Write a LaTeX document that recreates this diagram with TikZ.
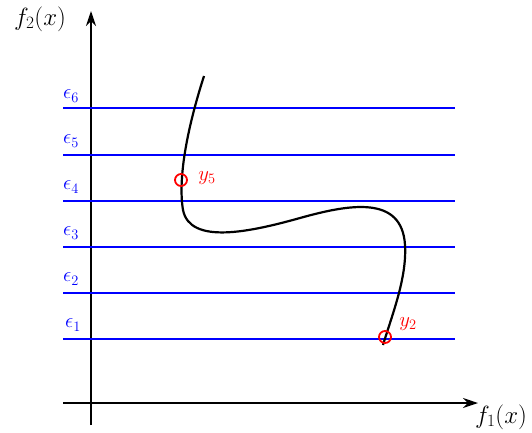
\documentclass[tikz,border=0pt]{standalone}
\usetikzlibrary{arrows.meta}
\begin{document}
\begin{tikzpicture}[x=1pt,y=-1pt,
  axis/.style={line width=1.4pt,-{Stealth[length=15pt,width=10pt]}},
  eps/.style={draw=blue,line width=1.1pt},
  biglabel/.style={font=\fontsize{27}{32}\selectfont,inner sep=0pt},
  epslabel/.style={text=blue,font=\fontsize{21}{25}\selectfont,inner sep=0pt},
  pt/.style={circle,draw=red,line width=1.8pt,minimum size=12pt,inner sep=0pt},
  ptlabel/.style={text=red,font=\fontsize{21}{25}\selectfont,inner sep=0pt}]
\useasboundingbox (0,0) rectangle (532,432);
% axes
\coordinate (ys) at (91,425);
\coordinate (ye) at (91,11);
\coordinate (xs) at (63,403);
\coordinate (xe) at (478,403);
\draw[axis] (ys) -- (ye);
\draw[axis] (xs) -- (xe);
\node[biglabel] (f2) at (40,19) {$f_2(x)$};
\node[biglabel] (f1) at (501,417) {$f_1(x)$};
% epsilon lines
\coordinate (l1) at (63,339); \coordinate (r1) at (455,339);
\coordinate (l2) at (63,293); \coordinate (r2) at (455,293);
\coordinate (l3) at (63,247); \coordinate (r3) at (455,247);
\coordinate (l4) at (63,201); \coordinate (r4) at (455,201);
\coordinate (l5) at (63,155); \coordinate (r5) at (455,155);
\coordinate (l6) at (63,108); \coordinate (r6) at (455,108);
\draw[eps] (l1) -- (r1);
\draw[eps] (l2) -- (r2);
\draw[eps] (l3) -- (r3);
\draw[eps] (l4) -- (r4);
\draw[eps] (l5) -- (r5);
\draw[eps] (l6) -- (r6);
\node[epslabel] (e6) at (71,96) {$\epsilon_6$};
\node[epslabel] (e5) at (71,141) {$\epsilon_5$};
\node[epslabel] (e4) at (71,187) {$\epsilon_4$};
\node[epslabel] (e3) at (71,233) {$\epsilon_3$};
\node[epslabel] (e2) at (71,279) {$\epsilon_2$};
\node[epslabel] (e1) at (73,325) {$\epsilon_1$};
% curve
\coordinate (c0) at (204,76);
\coordinate (c1) at (183,210);
\coordinate (c2) at (300,218);
\coordinate (c3) at (405,245);
\coordinate (c4) at (383,345);
\draw[line width=2.2pt] (c0) .. controls (186,132) and (178,180) .. (c1)
  .. controls (190,245) and (250,232) .. (c2)
  .. controls (350,204) and (402,195) .. (c3)
  .. controls (407,278) and (392,315) .. (c4);
\node[pt] (p5) at (181,180) {};
\node[pt] (p2) at (385,337) {};
\node[ptlabel] (y5) at (207,178) {$y_5$};
\node[ptlabel] (y2) at (408,324) {$y_2$};
\end{tikzpicture}
\end{document}
